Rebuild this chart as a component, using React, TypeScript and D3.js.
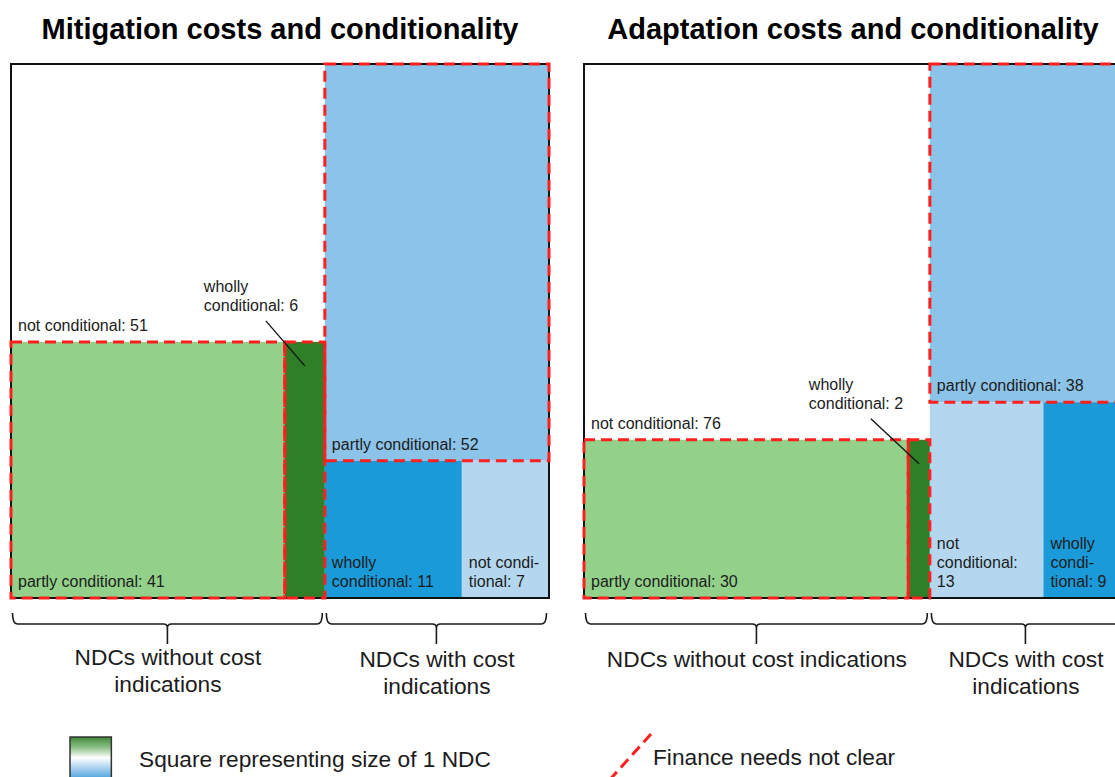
import * as d3 from 'd3';

// values (number of NDCs)
const panelTitles = ['Mitigation costs and conditionality', 'Adaptation costs and conditionality'];
const mitigationWithout = [51, 41, 6]; // not, partly, wholly conditional
const mitigationWith = [52, 11, 7]; // partly, wholly, not conditional
const adaptationWithout = [76, 30, 2]; // not, partly, wholly conditional
const adaptationWith = [38, 13, 9]; // partly, not, wholly conditional
const mitigationGroupLines = [['NDCs without cost', 'indications'], ['NDCs with cost', 'indications']];
const adaptationGroupLines = [['NDCs without cost indications'], ['NDCs with cost', 'indications']];

const C = {
  white: '#ffffff',
  lightGreen: '#93d18a',
  darkGreen: '#2e7f28',
  midBlue: '#8cc3e8',
  darkBlue: '#1a9ad8',
  paleBlue: '#b4d7ef',
  red: '#ff1f1f',
  text: '#1c1c1c',
};

type Seg = { value: number; color: string; lines: string[]; dashed: boolean; callout?: boolean };
type Col = { top: Seg; bottom: Seg[] };

const panels: { title: string; cols: Col[]; groups: string[][] }[] = [
  {
    title: panelTitles[0],
    groups: mitigationGroupLines,
    cols: [
      {
        top: { value: mitigationWithout[0], color: C.white, lines: [`not conditional: ${mitigationWithout[0]}`], dashed: false },
        bottom: [
          { value: mitigationWithout[1], color: C.lightGreen, lines: [`partly conditional: ${mitigationWithout[1]}`], dashed: true },
          { value: mitigationWithout[2], color: C.darkGreen, lines: ['wholly', `conditional: ${mitigationWithout[2]}`], dashed: true, callout: true },
        ],
      },
      {
        top: { value: mitigationWith[0], color: C.midBlue, lines: [`partly conditional: ${mitigationWith[0]}`], dashed: true },
        bottom: [
          { value: mitigationWith[1], color: C.darkBlue, lines: ['wholly', `conditional: ${mitigationWith[1]}`], dashed: false },
          { value: mitigationWith[2], color: C.paleBlue, lines: ['not condi-', `tional: ${mitigationWith[2]}`], dashed: false },
        ],
      },
    ],
  },
  {
    title: panelTitles[1],
    groups: adaptationGroupLines,
    cols: [
      {
        top: { value: adaptationWithout[0], color: C.white, lines: [`not conditional: ${adaptationWithout[0]}`], dashed: false },
        bottom: [
          { value: adaptationWithout[1], color: C.lightGreen, lines: [`partly conditional: ${adaptationWithout[1]}`], dashed: true },
          { value: adaptationWithout[2], color: C.darkGreen, lines: ['wholly', `conditional: ${adaptationWithout[2]}`], dashed: true, callout: true },
        ],
      },
      {
        top: { value: adaptationWith[0], color: C.midBlue, lines: [`partly conditional: ${adaptationWith[0]}`], dashed: true },
        bottom: [
          { value: adaptationWith[1], color: C.paleBlue, lines: ['not', 'conditional:', `${adaptationWith[1]}`], dashed: false },
          { value: adaptationWith[2], color: C.darkBlue, lines: ['wholly', 'condi-', `tional: ${adaptationWith[2]}`], dashed: false },
        ],
      },
    ],
  },
];

const W = 538;
const H = 534;
const Y0 = 64;
const panelX = [11, 584];
const font = "'Liberation Sans', Arial, sans-serif";
const dash = '11,6';

const colTotal = (c: Col) => c.top.value + d3.sum(c.bottom, (s) => s.value);

const bracePath = (a: number, b: number) => {
  const m = (a + b) / 2;
  const yt = 613, yh = 624, yb = 644;
  return `M${a},${yt} Q${a},${yh} ${a + 5},${yh} L${m - 4},${yh} Q${m},${yh} ${m},${yh + 4} L${m},${yb} M${m},${yh + 4} Q${m},${yh} ${m + 4},${yh} L${b - 5},${yh} Q${b},${yh} ${b},${yt}`;
};

const Panel = ({ p, x0 }: { p: (typeof panels)[number]; x0: number }) => {
  const total = d3.sum(p.cols, colTotal);
  const x = d3.scaleLinear().domain([0, total]).range([x0, x0 + W]);
  let cum = 0;
  const fills: JSX.Element[] = [];
  const dashes: JSX.Element[] = [];
  const labels: JSX.Element[] = [];
  const braces: JSX.Element[] = [];

  p.cols.forEach((c, ci) => {
    const t = colTotal(c);
    const cx0 = x(cum);
    const cx1 = x(cum + t);
    cum += t;
    const y = d3.scaleLinear().domain([0, t]).range([Y0, Y0 + H]);
    const yMid = y(c.top.value);
    const bSum = d3.sum(c.bottom, (s) => s.value);
    const bx = d3.scaleLinear().domain([0, bSum]).range([cx0, cx1]);

    const rects = [{ s: c.top, x: cx0, w: cx1 - cx0, y: Y0, h: yMid - Y0 }];
    let bc = 0;
    c.bottom.forEach((s) => {
      rects.push({ s, x: bx(bc), w: bx(bc + s.value) - bx(bc), y: yMid, h: Y0 + H - yMid });
      bc += s.value;
    });

    rects.forEach((r, ri) => {
      const k = `${ci}-${ri}`;
      fills.push(<rect key={k} x={r.x} y={r.y} width={r.w} height={r.h} fill={r.s.color} />);
      if (r.s.dashed) {
        dashes.push(
          <rect key={k} x={r.x} y={r.y} width={r.w} height={r.h} fill="none" stroke={C.red} strokeWidth={3} strokeDasharray={dash} />
        );
      }
      const n = r.s.lines.length;
      if (r.s.callout) {
        const endX = cx1 - 27;
        labels.push(
          <g key={k}>
            {r.s.lines.map((l, li) => (
              <text key={li} x={endX - 94} y={r.y - 31 - (n - 1 - li) * 19} fontSize={16} fill={C.text}>
                {l}
              </text>
            ))}
            <line x1={cx1 - 59} y1={r.y - 21} x2={r.x + r.w / 2} y2={r.y + 24} stroke="#111" strokeWidth={1.3} />
          </g>
        );
      } else {
        labels.push(
          <g key={k}>
            {r.s.lines.map((l, li) => (
              <text key={li} x={r.x + 7} y={r.y + r.h - 11 - (n - 1 - li) * 19} fontSize={16} fill={C.text}>
                {l}
              </text>
            ))}
          </g>
        );
      }
    });

    braces.push(
      <path key={`b${ci}`} d={bracePath(cx0 + 1.5, cx1 - 2.5)} fill="none" stroke="#1a1a1a" strokeWidth={1.6} />
    );
    const gl = p.groups[ci];
    const gy = ci === 0 ? 665 : 667;
    braces.push(
      <text key={`g${ci}`} x={(cx0 + cx1) / 2} textAnchor="middle" fontSize={22.7} fill={C.text}>
        {gl.map((l, li) => (
          <tspan key={li} x={(cx0 + cx1) / 2} y={gl.length === 1 ? 667 : gy + li * 27}>
            {l}
          </tspan>
        ))}
      </text>
    );
  });

  return (
    <g>
      <text x={x0 + W / 2} y={39} textAnchor="middle" fontSize={29} fontWeight="bold" fill="#000">
        {p.title}
      </text>
      {fills}
      <rect x={x0} y={Y0} width={W} height={H} fill="none" stroke="#111" strokeWidth={2} />
      {dashes}
      {labels}
      {braces}
    </g>
  );
};

export default function App() {
  const ndcSide = Math.sqrt((W * H) / d3.sum(panels[0].cols, colTotal));
  return (
    <svg
      width={1115}
      height={777}
      style={{ position: 'absolute', left: 0, top: 0, background: '#fff' }}
      fontFamily={font}
    >
      <defs>
        <linearGradient id="ndcGrad" x1="0" y1="0" x2="0" y2="1">
          <stop offset="0%" stopColor="#3d8a38" />
          <stop offset="25%" stopColor="#8cbf86" />
          <stop offset="50%" stopColor="#ffffff" />
          <stop offset="75%" stopColor="#a9d2ee" />
          <stop offset="100%" stopColor="#4ea3dc" />
        </linearGradient>
      </defs>
      {panels.map((p, i) => (
        <Panel key={i} p={p} x0={panelX[i]} />
      ))}
      {/* legend */}
      <rect x={70} y={737} width={ndcSide} height={ndcSide} fill="url(#ndcGrad)" stroke="#333" strokeWidth={1.5} />
      <text x={139} y={767} fontSize={22.7} fill={C.text}>
        Square representing size of 1 NDC
      </text>
      <line x1={651} y1={734} x2={605} y2={785} stroke={C.red} strokeWidth={3} strokeDasharray={dash} />
      <text x={653} y={765} fontSize={22.7} fill={C.text}>
        Finance needs not clear
      </text>
    </svg>
  );
}
